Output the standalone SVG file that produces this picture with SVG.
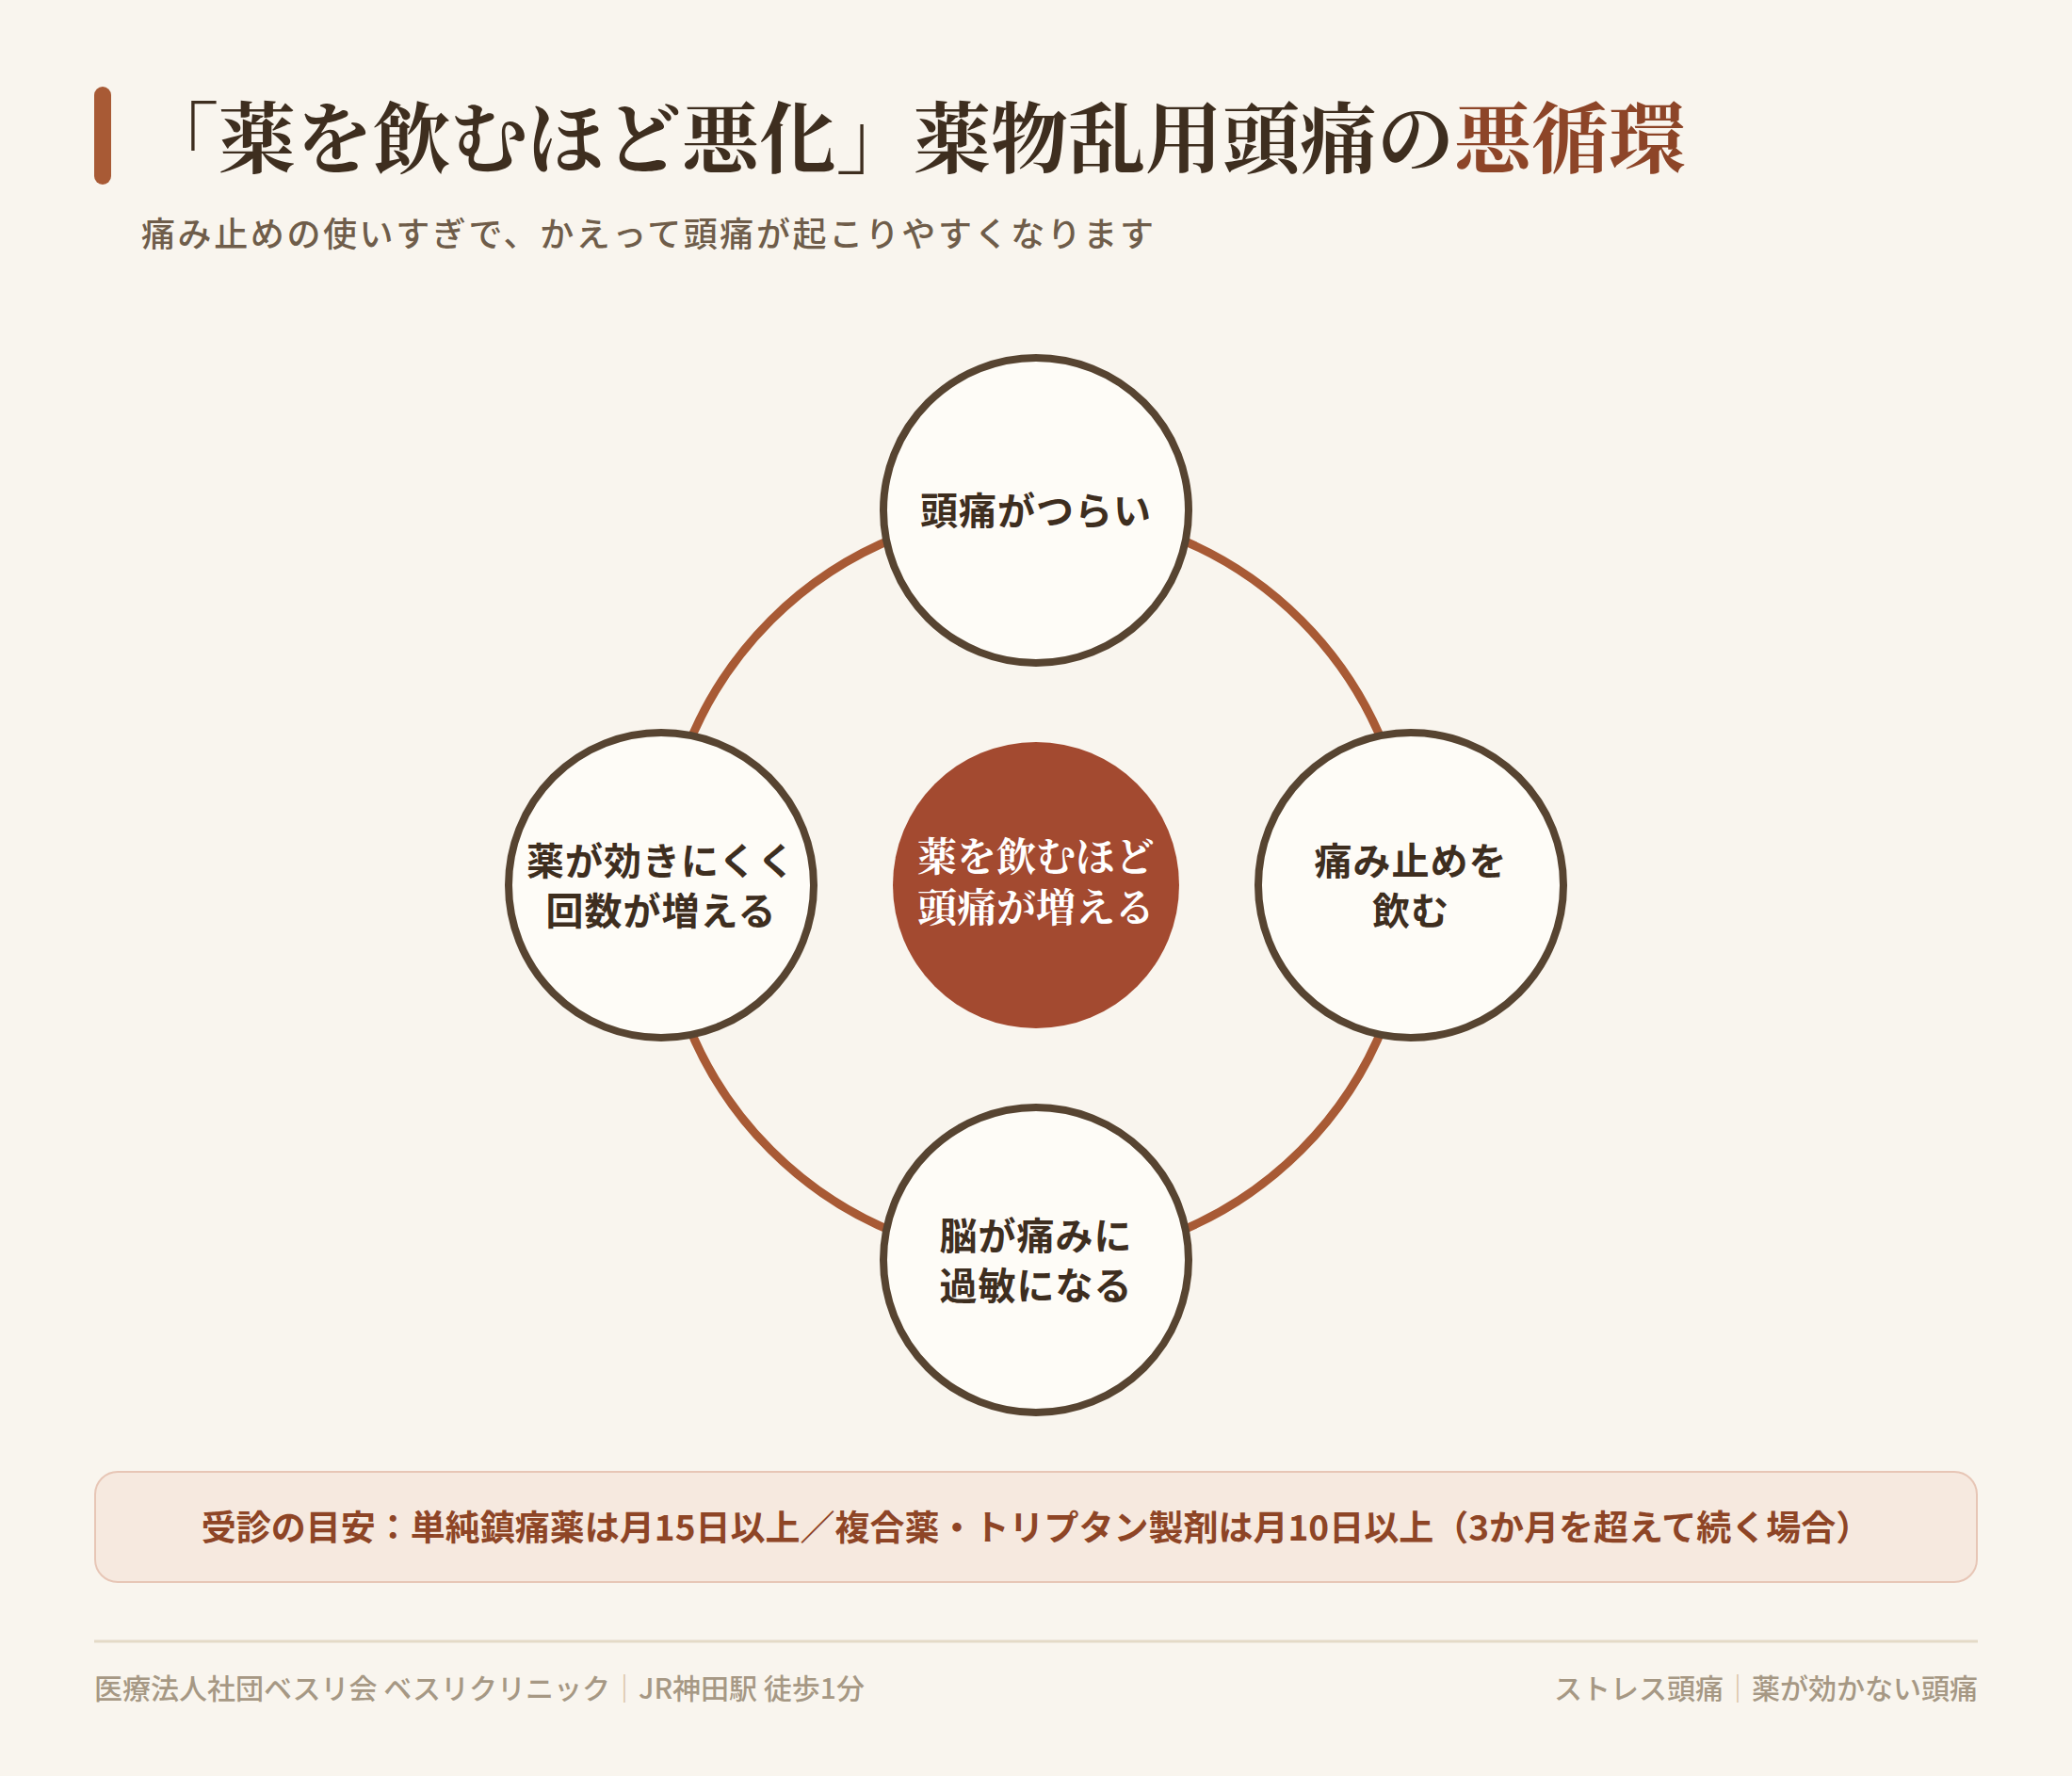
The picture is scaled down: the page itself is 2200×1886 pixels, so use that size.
<svg xmlns="http://www.w3.org/2000/svg" width="2200" height="1886" viewBox="0 0 2200 1886">
<style>
.bg{fill:#f9f5ee}
.sans{font-family:"Noto Sans CJK JP","Noto Sans",sans-serif}
.serif{font-family:"Noto Serif CJK JP","Noto Serif JP","Noto Sans CJK JP",serif}
.title{font-size:82px;font-weight:700;fill:#3e2e1f}
.accent{fill:#8d4528}
.sub{font-size:36px;font-weight:500;fill:#6f5d4a;letter-spacing:2.6px}
.node circle{fill:#fefcf7;stroke:#574431;stroke-width:8}
.node text{font-size:40px;font-weight:700;fill:#3e2e1f;text-anchor:middle;letter-spacing:1px}
.core circle{fill:#a34a30}
.core text{font-size:42px;font-weight:700;fill:#ffffff;text-anchor:middle}
.ring{fill:none;stroke:#a85a35;stroke-width:9}
.note-box{fill:#f6e9df;stroke:#e7c6b6;stroke-width:2}
.note{font-size:37px;font-weight:700;fill:#8e4526;text-anchor:middle}
.foot{font-size:30px;font-weight:500;fill:#a69884}
.sep{fill:#d8c1a2}
</style>
<rect class="bg" x="0" y="0" width="2200" height="1886"/>

<g id="header">
  <rect x="100" y="92" width="18" height="104" rx="9" fill="#a85a35"/>
  <text class="serif title" x="150" y="177">「薬を飲むほど悪化」薬物乱用頭痛の<tspan class="accent">悪循環</tspan></text>
  <text class="sans sub" x="150" y="262">痛み止めの使いすぎで、かえって頭痛が起こりやすくなります</text>
</g>

<g id="connectors">
  <path class="ring" d="M1100 542 A398 398 0 0 1 1498 940"/>
  <path class="ring" d="M1498 940 A398 398 0 0 1 1100 1338"/>
  <path class="ring" d="M1100 1338 A398 398 0 0 1 702 940"/>
  <path class="ring" d="M702 940 A398 398 0 0 1 1100 542"/>
</g>

<g id="node-top" class="node sans">
  <circle cx="1100" cy="542" r="162"/>
  <text x="1100" y="557">頭痛がつらい</text>
</g>
<g id="node-right" class="node sans">
  <circle cx="1498" cy="940" r="162"/>
  <text x="1498" y="929">痛み止めを</text>
  <text x="1498" y="982">飲む</text>
</g>
<g id="node-bottom" class="node sans">
  <circle cx="1100" cy="1338" r="162"/>
  <text x="1100" y="1327">脳が痛みに</text>
  <text x="1100" y="1380">過敏になる</text>
</g>
<g id="node-left" class="node sans">
  <circle cx="702" cy="940" r="162"/>
  <text x="702" y="929">薬が効きにくく</text>
  <text x="702" y="982">回数が増える</text>
</g>
<g id="node-center" class="core serif">
  <circle cx="1100" cy="940" r="152"/>
  <text x="1100" y="925">薬を飲むほど</text>
  <text x="1100" y="979">頭痛が増える</text>
</g>

<g id="note">
  <rect class="note-box" x="101" y="1563" width="1998" height="117" rx="24"/>
  <text class="sans note" x="1100" y="1636">受診の目安：単純鎮痛薬は月15日以上／複合薬・トリプタン製剤は月10日以上（3か月を超えて続く場合）</text>
</g>

<g id="footer">
  <line x1="100" y1="1743" x2="2100" y2="1743" stroke="#e4dac7" stroke-width="3"/>
  <text class="sans foot" x="100" y="1804">医療法人社団ベスリ会 ベスリクリニック<tspan class="sep">｜</tspan>JR神田駅 徒歩1分</text>
  <text class="sans foot" x="2100" y="1804" text-anchor="end">ストレス頭痛<tspan class="sep">｜</tspan>薬が効かない頭痛</text>
</g>
</svg>
